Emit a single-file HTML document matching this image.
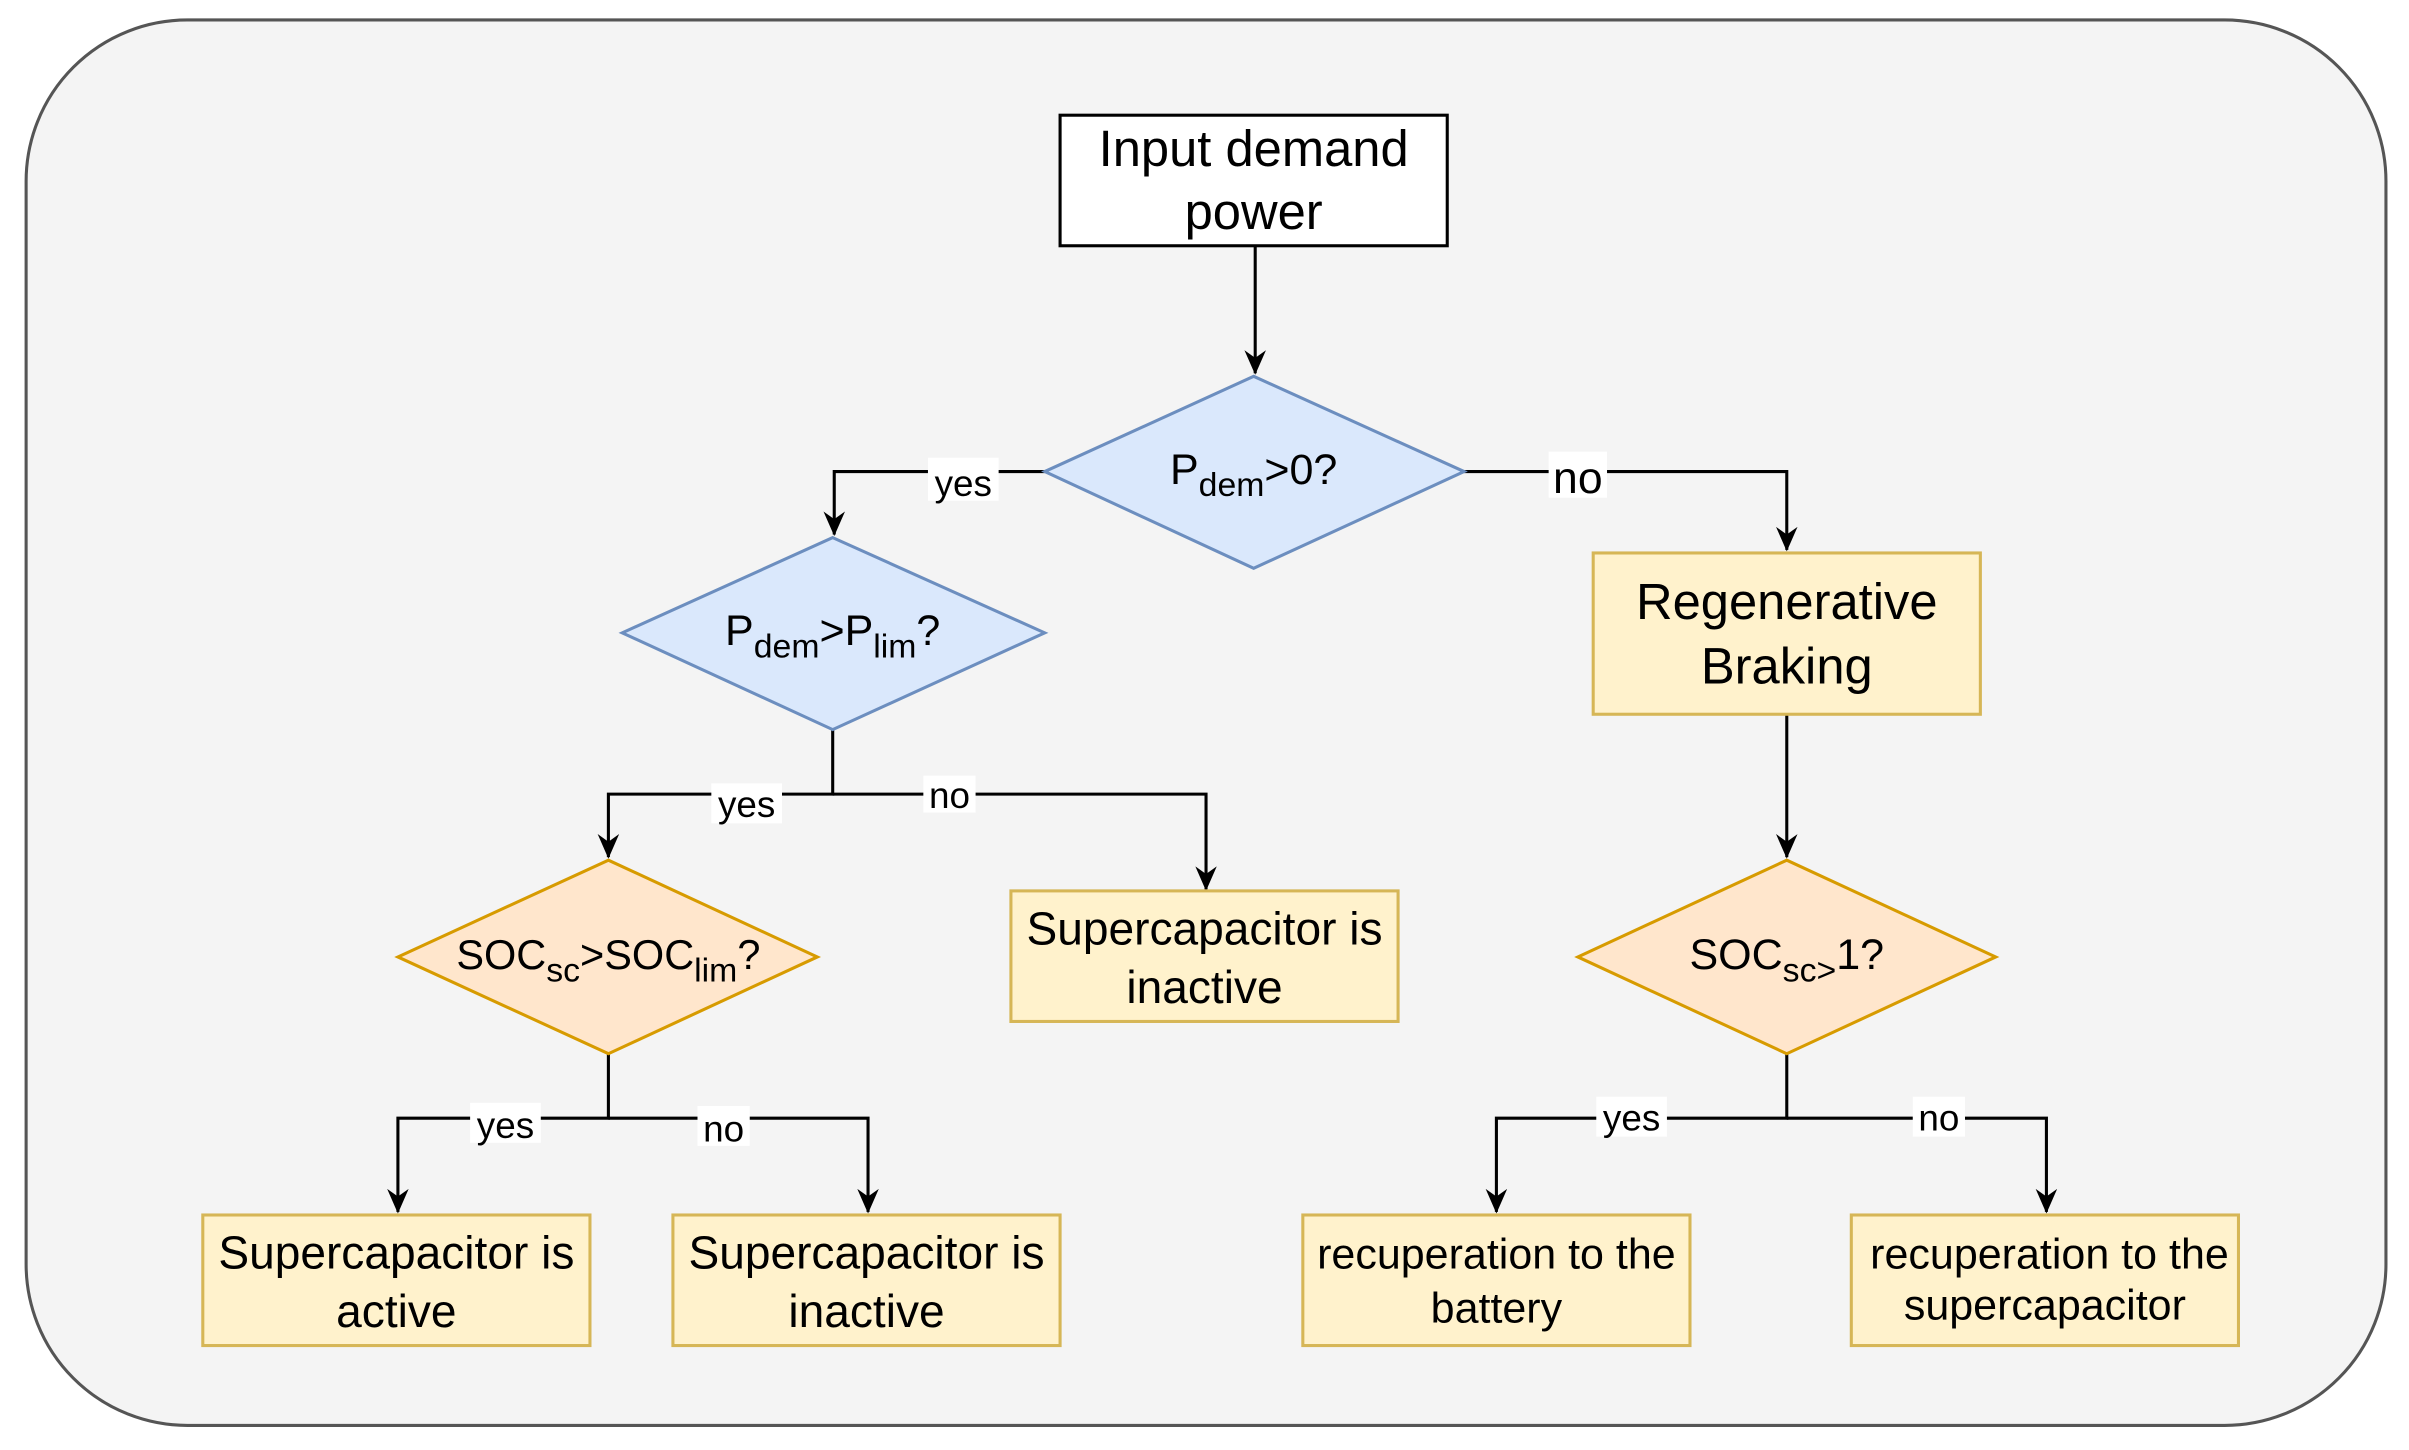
<!DOCTYPE html>
<html><head><meta charset="utf-8"><style>
html,body{margin:0;padding:0;background:#fff;}
svg{display:block;}
text{font-family:"Liberation Sans",Arial,sans-serif;fill:#000;}
</style></head><body>
<svg width="2409" height="1450" viewBox="0 0 1568 944" preserveAspectRatio="none" xmlns="http://www.w3.org/2000/svg">
<defs>
<marker id="b" markerWidth="14" markerHeight="16" refX="7" refY="15" viewBox="0 0 14 16" markerUnits="userSpaceOnUse"><path d="M0,0 L7,16 L14,0 L7,5 Z" fill="#000"/></marker></defs>
<rect x="17" y="13" width="1536" height="915" rx="105" fill="#f4f4f4" stroke="#555" stroke-width="2"/>
<g stroke="#000" stroke-width="2" fill="none">
<path d="M817,160 V243" marker-end="url(#b)"/>
<path d="M680,307 H543 V348" marker-end="url(#b)"/>
<path d="M953,307 H1163 V358" marker-end="url(#b)"/>
<path d="M1163,465 V558" marker-end="url(#b)"/>
<path d="M542,475 V517 H396 V558" marker-end="url(#b)"/>
<path d="M542,517 H785 V579" marker-end="url(#b)"/>
<path d="M396,686 V728 H259 V789" marker-end="url(#b)"/>
<path d="M396,728 H565 V789" marker-end="url(#b)"/>
<path d="M1163,686 V728 H974 V789" marker-end="url(#b)"/>
<path d="M1163,728 H1332 V789" marker-end="url(#b)"/>
</g>
<rect x="690" y="75" width="252" height="85" fill="#fff" stroke="#000" stroke-width="2"/>
<text x="816" y="108" font-size="33" text-anchor="middle">Input demand</text>
<text x="816" y="149" font-size="33" text-anchor="middle">power</text>
<polygon points="816,245 953,307 816,370 680,307" fill="#dae8fc" stroke="#6c8ebf" stroke-width="2"/>
<text x="816" y="315" font-size="28" text-anchor="middle">P<tspan font-size="22" dy="8">dem</tspan><tspan dy="-8">&gt;0?</tspan></text>
<polygon points="542,350 680,412 542,475 405,412" fill="#dae8fc" stroke="#6c8ebf" stroke-width="2"/>
<text x="542" y="420" font-size="28" text-anchor="middle">P<tspan font-size="22" dy="8">dem</tspan><tspan dy="-8">&gt;P</tspan><tspan font-size="22" dy="8">lim</tspan><tspan dy="-8">?</tspan></text>
<rect x="1037" y="360" width="252" height="105" fill="#fff2cc" stroke="#d6b656" stroke-width="2"/>
<text x="1163" y="403" font-size="33" text-anchor="middle">Regenerative</text>
<text x="1163" y="445" font-size="33" text-anchor="middle">Braking</text>
<polygon points="396,560 532,623 396,686 259,623" fill="#ffe6cc" stroke="#d79b00" stroke-width="2"/>
<text x="396" y="631" font-size="27" text-anchor="middle">SOC<tspan font-size="22" dy="8">sc</tspan><tspan dy="-8">&gt;SOC</tspan><tspan font-size="22" dy="8">lim</tspan><tspan dy="-8">?</tspan></text>
<polygon points="1163,560 1299,623 1163,686 1027,623" fill="#ffe6cc" stroke="#d79b00" stroke-width="2"/>
<text x="1163" y="631" font-size="28" text-anchor="middle">SOC<tspan font-size="22" dy="8">sc&gt;</tspan><tspan dy="-8">1?</tspan></text>
<g fill="#fff2cc" stroke="#d6b656" stroke-width="2">
<rect x="658" y="580" width="252" height="85"/>
<rect x="132" y="791" width="252" height="85"/>
<rect x="438" y="791" width="252" height="85"/>
<rect x="848" y="791" width="252" height="85"/>
<rect x="1205" y="791" width="252" height="85"/>
</g>
<g font-size="30" text-anchor="middle">
<text x="784" y="615">Supercapacitor is</text><text x="784" y="653">inactive</text>
<text x="258" y="826">Supercapacitor is</text><text x="258" y="864">active</text>
<text x="564" y="826">Supercapacitor is</text><text x="564" y="864">inactive</text>
</g>
<g font-size="28" text-anchor="middle">
<text x="974" y="826">recuperation to the</text><text x="974" y="861">battery</text>
<text x="1334" y="826">recuperation to the</text><text x="1331" y="859">supercapacitor</text>
</g>
<g font-size="24" text-anchor="middle">
<rect x="604" y="298" width="46" height="28" fill="#fff"/><text x="627" y="323">yes</text>
<rect x="1008" y="294" width="38" height="30" fill="#fff"/><text x="1027" y="321" font-size="29">no</text>
<rect x="463" y="510" width="46" height="26" fill="#fff"/><text x="486" y="532">yes</text>
<rect x="601" y="505" width="34" height="24" fill="#fff"/><text x="618" y="526">no</text>
<rect x="306" y="718" width="46" height="26" fill="#fff"/><text x="329" y="741">yes</text>
<rect x="454" y="720" width="34" height="26" fill="#fff"/><text x="471" y="743">no</text>
<rect x="1039" y="714" width="46" height="26" fill="#fff"/><text x="1062" y="736">yes</text>
<rect x="1245" y="714" width="34" height="26" fill="#fff"/><text x="1262" y="736">no</text>
</g>
</svg>
</body></html>
